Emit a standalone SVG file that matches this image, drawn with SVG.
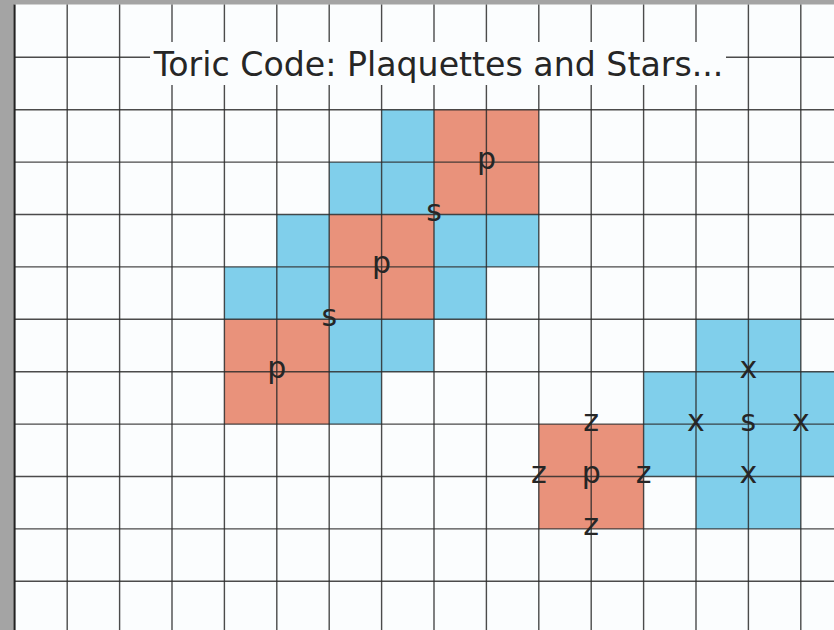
<svg xmlns="http://www.w3.org/2000/svg" width="834" height="630" viewBox="0 0 834 630">
<style>
.pl{fill:#e9927b}
.st{fill:#80cfeb}
.gl{stroke:#2b2b2b;stroke-width:1.4;stroke-opacity:0.85;fill:none}
.lb{font-family:"DejaVu Sans",sans-serif;font-size:30px;fill:#262626;text-anchor:middle}
.tt{font-family:"DejaVu Sans",sans-serif;font-size:33.2px;fill:#262626;text-anchor:middle}
</style>
<rect x="0" y="0" width="834" height="630" fill="#a4a4a4"/>
<rect x="14" y="4.5" width="820" height="626" fill="#fbfdfe"/>
<g id="cells">
<g id="plaquette-1"><rect class="pl" x="434" y="109.7" width="104.8" height="104.8"/></g>
<g id="plaquette-2"><rect class="pl" x="329.2" y="214.5" width="104.8" height="104.8"/></g>
<g id="plaquette-3"><rect class="pl" x="224.4" y="319.3" width="104.8" height="104.8"/></g>
<g id="plaquette-4"><rect class="pl" x="538.8" y="424.1" width="104.8" height="104.8"/></g>
<g id="star-cells">
<rect class="st" x="381.6" y="109.7" width="52.4" height="104.8"/>
<rect class="st" x="329.2" y="162.1" width="52.4" height="52.4"/>
<rect class="st" x="276.8" y="214.5" width="52.4" height="52.4"/>
<rect class="st" x="434" y="214.5" width="104.8" height="52.4"/>
<rect class="st" x="224.4" y="266.9" width="104.8" height="52.4"/>
<rect class="st" x="434" y="266.9" width="52.4" height="52.4"/>
<rect class="st" x="329.2" y="319.3" width="104.8" height="52.4"/>
<rect class="st" x="329.2" y="371.7" width="52.4" height="52.4"/>
</g>
<g id="star-right">
<rect class="st" x="696" y="319.3" width="104.8" height="52.4"/>
<rect class="st" x="643.6" y="371.7" width="209.6" height="104.8"/>
<rect class="st" x="696" y="476.5" width="104.8" height="52.4"/>
</g>
</g>
<g id="grid" class="gl">
<path d="M67.2 4.5V630M119.6 4.5V630M172 4.5V630M224.4 4.5V630M276.8 4.5V630M329.2 4.5V630M381.6 4.5V630M434 4.5V630M486.4 4.5V630M538.8 4.5V630M591.2 4.5V630M643.6 4.5V630M696 4.5V630M748.4 4.5V630M800.8 4.5V630"/>
<path d="M14 57.3H834M14 109.7H834M14 162.1H834M14 214.5H834M14 266.9H834M14 319.3H834M14 371.7H834M14 424.1H834M14 476.5H834M14 528.9H834M14 581.3H834"/>
</g>
<line x1="14.6" y1="4.5" x2="14.6" y2="630" stroke="#222" stroke-width="2"/>
<g id="title">
<rect x="150" y="42" width="576" height="43" fill="#fbfdfe"/>
<text class="tt" x="438.5" y="76">Toric Code: Plaquettes and Stars...</text>
</g>
<g id="labels" class="lb">
<text x="486.4" y="168.6">p</text>
<text x="381.6" y="273.4">p</text>
<text x="276.8" y="378.2">p</text>
<text x="591.2" y="483">p</text>
<text x="434" y="221">s</text>
<text x="329.2" y="325.8">s</text>
<text x="748.4" y="430.6">s</text>
<text x="591.2" y="430.6">z</text>
<text x="538.8" y="483">z</text>
<text x="643.6" y="483">z</text>
<text x="591.2" y="535.4">z</text>
<text x="748.4" y="378.2">x</text>
<text x="696" y="430.6">x</text>
<text x="800.8" y="430.6">x</text>
<text x="748.4" y="483">x</text>
</g>
</svg>
